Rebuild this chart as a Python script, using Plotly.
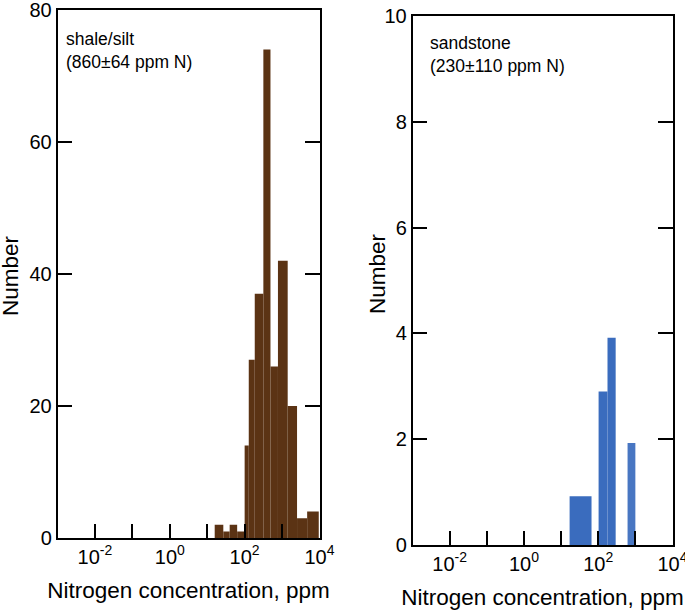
import plotly.graph_objects as go

# ---------------- data (bin edges are log10 of ppm N) ----------------
shale_lo = [1.20, 1.43, 1.60, 1.80, 2.00, 2.11, 2.27, 2.50, 2.69, 2.89, 3.15, 3.40, 3.67]
shale_hi = [1.43, 1.60, 1.80, 2.00, 2.11, 2.27, 2.50, 2.69, 2.89, 3.15, 3.40, 3.67, 3.98]
shale_n = [2, 1, 2, 1, 14, 27, 37, 74, 26, 42, 20, 3, 4]

sand_lo = [1.23, 2.01, 2.25, 2.79]
sand_hi = [1.82, 2.25, 2.47, 3.00]
sand_n = [0.92, 2.9, 3.92, 1.93]

x_tickvals = [-3, -2, -1, 0, 1, 2, 3, 4]
x_ticktext = ["", "10<sup>-2</sup>", "", "10<sup>0</sup>", "", "10<sup>2</sup>", "", "10<sup>4</sup>"]
shale_yticks = [0, 20, 40, 60, 80]
sand_yticks = [0, 2, 4, 6, 8, 10]

shale_label = "shale/silt<br>(860±64 ppm N)"
sand_label = "sandstone<br>(230±110 ppm N)"
x_title = "Nitrogen concentration, ppm"
y_title = "Number"

# ---------------- styles ----------------
BROWN = "rgb(91,51,20)"
BLUE = "rgb(58,108,190)"
BLUE_LIGHT = "rgb(72,118,194)"
FONT = "Liberation Sans, Arial, Helvetica, sans-serif"
W, H = 685, 611
TOP_TICK_SHIFT = -0.3        # top tick marks in the original sit a bit left of the bottom ones


def centers(lo, hi):
    return [(a + b) / 2 for a, b in zip(lo, hi)]


def widths(lo, hi):
    return [b - a for a, b in zip(lo, hi)]


def fx(px):
    return px / W


def fy(py):
    return 1 - py / H


fig = go.Figure()
fig.add_trace(go.Bar(x=centers(shale_lo, shale_hi), y=shale_n, width=widths(shale_lo, shale_hi),
                     marker=dict(color=BROWN, line=dict(width=0)), xaxis="x", yaxis="y",
                     showlegend=False, hoverinfo="skip"))
fig.add_trace(go.Bar(x=centers(sand_lo, sand_hi), y=sand_n, width=widths(sand_lo, sand_hi),
                     marker=dict(color=[BLUE, BLUE, BLUE, BLUE_LIGHT], line=dict(width=0)),
                     xaxis="x2", yaxis="y2", showlegend=False, hoverinfo="skip"))

tickfont = dict(family=FONT, size=20, color="black")
titlefont = dict(family=FONT, size=22.5, color="black")

common_x = dict(range=[-3, 4], tickmode="array", tickvals=x_tickvals, ticktext=x_ticktext,
                ticks="inside", ticklen=14, tickwidth=1.5, tickcolor="black",
                showline=True, linecolor="black", linewidth=1.5, mirror=True,
                showgrid=False, zeroline=False, tickfont=tickfont, automargin=False,
                ticklabeloverflow="allow",
                title=dict(text=x_title, font=titlefont, standoff=15))
common_y = dict(ticks="inside", ticklen=15, tickwidth=1.5, tickcolor="black",
                showline=True, linecolor="black", linewidth=1.5, mirror="ticks",
                showgrid=False, zeroline=False, tickfont=tickfont, automargin=False,
                ticklabeloverflow="allow")
top_x = dict(range=[-3, 4], side="top", tickmode="array",
             tickvals=[v + TOP_TICK_SHIFT for v in x_tickvals[1:]],
             ticks="inside", ticklen=15, tickwidth=1.5, tickcolor="black",
             showticklabels=False, showline=False, showgrid=False, zeroline=False,
             automargin=False)

fig.update_layout(
    width=W, height=H,
    margin=dict(l=0, r=0, t=0, b=0, autoexpand=False),
    paper_bgcolor="white", plot_bgcolor="white",
    font=dict(family=FONT, color="black"),
    barmode="overlay",
    xaxis=dict(domain=[fx(57.5), fx(319.5)], anchor="y", **common_x),
    yaxis=dict(domain=[fy(538), fy(10)], anchor="x", range=[0, 80], tickvals=shale_yticks, **common_y),
    xaxis2=dict(domain=[fx(412.5), fx(672.5)], anchor="y2", **common_x),
    yaxis2=dict(domain=[fy(545), fy(16)], anchor="x2", range=[0, 10], tickvals=sand_yticks, **common_y),
    xaxis3=dict(overlaying="x", anchor="y", **top_x),
    xaxis4=dict(overlaying="x2", anchor="y2", **top_x),
    annotations=[
        dict(text=shale_label, xref="x domain", yref="y domain", x=0.025, y=0.967,
             xanchor="left", yanchor="top", align="left", showarrow=False,
             font=dict(family=FONT, size=17.5, color="black")),
        dict(text=sand_label, xref="x2 domain", yref="y2 domain", x=0.06, y=0.972,
             xanchor="left", yanchor="top", align="left", showarrow=False,
             font=dict(family=FONT, size=17.5, color="black")),
        dict(text=y_title, xref="paper", yref="paper", x=fx(10), y=fy(276), textangle=-90,
             xanchor="center", yanchor="middle", showarrow=False, font=titlefont),
        dict(text=y_title, xref="paper", yref="paper", x=fx(378), y=fy(274), textangle=-90,
             xanchor="center", yanchor="middle", showarrow=False, font=titlefont),
    ],
)

# drop the browser's default 8px page margin so the figure fills the window exactly
fig.write_html("out.html", config={"displayModeBar": False},
               post_script="document.body.style.margin='0px';")
